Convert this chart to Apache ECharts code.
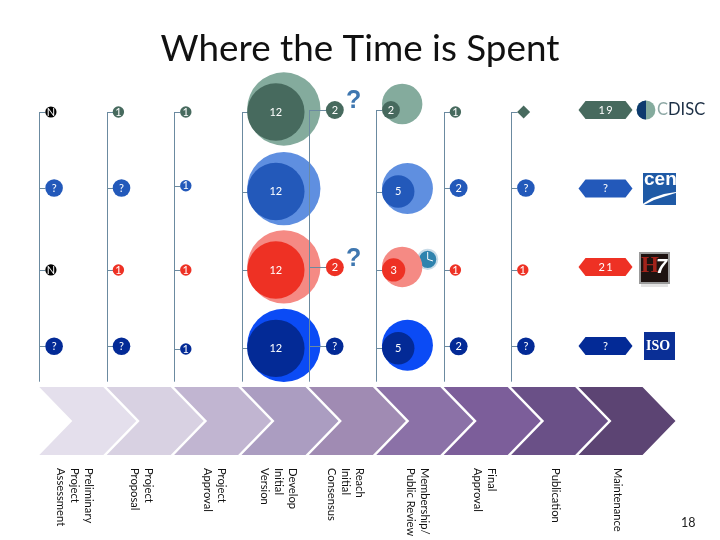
<!DOCTYPE html>
<html>
<head>
<meta charset="utf-8">
<title>Where the Time is Spent</title>
<style>
  html, body { margin: 0; padding: 0; background: #fff; }
  #chart { width: 720px; height: 540px; }
</style>
<script src="https://cdn.jsdelivr.net/npm/echarts@6/dist/echarts.min.js"></script>
</head>
<body>
<div id="chart"></div>
<script>
  const stages = [
    'Preliminary\nProject\nAssessment', 'Project\nProposal', 'Project\nApproval',
    'Develop\nInitial\nVersion', 'Reach\nInitial\nConsensus', 'Membership/\nPublic Review',
    'Final\nApproval', 'Publication', 'Maintenance'
  ]
  const orgs = ['CDISC', 'CEN', 'HL7', 'ISO']

  // months per stage ('M' = milestone diamond, null = nothing drawn)
  const cdiscTime = ['N', 1, 1, 12, 2, 2, 1, 'M', 19]
  const cenTime = ['?', '?', 1, 12, null, 5, 2, '?', '?']
  const hl7Time = ['N', 1, 1, 12, 2, 3, 1, 1, 21]
  const isoTime = ['?', '?', 1, 12, '?', 5, 2, '?', '?']

  // the pale circles behind stages 4 and 6 (estimated from their size)
  const cdiscSpan = [null, null, null, 17.5, null, 7, null, null, null]
  const cenSpan = [null, null, null, 17.5, null, 10, null, null, null]
  const hl7Span = [null, null, null, 17.5, null, 7, null, null, null]
  const isoSpan = [null, null, null, 17.5, null, 10, null, null, null]

  const darkColors = ['#476A5E', '#2359BA', '#EE3124', '#032A96']
  const paleColors = ['#84AB9D', '#5F8FE0', '#F58A84', '#0B4BF5']
  const chevronColors = ['#E4DFEC', '#D8D1E2', '#C1B5D1', '#AB9DC1', '#A08BB3', '#8B71A7', '#7C5E9A', '#6A5087', '#5C4473']
  const lineColor = '#6B8AA0'
  const fontName = 'Lato, "Noto Sans", sans-serif'

  // hand tweaks, the original slide was not laid out on a strict grid
  const rowNudge = [
    [0, 0, 0, 0, -2, -2, 0, 0, -2],
    [-2.3, -2.3, -4.6, 1.2, 0, 1.2, -2.3, -2.3, -1.8],
    [1.3, 1.3, 1.3, 1.3, -1.4, 1.3, 1.3, 1.3, -1.7],
    [-0.7, -0.7, 2, 1.3, -0.7, 1.3, -0.7, -0.7, -1]
  ]
  const colGap = [6, 6, 6, 5.7, 17, 5.7, 6, 6, 0]
  const labelNudge = [2, 1, 7, 3, 3, 8, 7, 11, 5]

  const timeByRow = [cdiscTime, cenTime, hl7Time, isoTime]
  const spanByRow = [cdiscSpan, cenSpan, hl7Span, isoSpan]
  const halfBand = 33.7

  function radius(v) {
    if (v === 'N') return 5.6
    if (v === '?') return 8.8
    return 5.7 * Math.pow(v, 0.65)
  }

  function cellsOf(list, row) {
    const out = []
    list.forEach((v, col) => {
      if (v !== null) out.push([col, row, v])
    })
    return out
  }

  function markSymbol(val) {
    if (val[2] === 'M') return 'diamond'
    if (val[0] === 8) return 'path://M0 9 L7 0 L47 0 L54 9 L47 18 L7 18 Z'
    return 'circle'
  }

  function markSize(val) {
    if (val[2] === 'M') return 13
    if (val[0] === 8) return [54, 18]
    return radius(val[2]) * 2
  }

  function markOffset(val) {
    const dy = rowNudge[val[1]][val[0]]
    if (val[0] === 8) return [-6.7, dy]
    if (val[2] === 'M') return [colGap[val[0]] + 6.5 - halfBand, dy]
    return [colGap[val[0]] + radius(val[2]) - halfBand, dy]
  }

  function spanOffset(val) {
    const lift = val[0] === 5 && val[1] === 0 ? -6 : -3
    return [5.7 + radius(val[2]) - halfBand, rowNudge[val[1]][val[0]] + lift]
  }

  const paleSeries = spanByRow.map((list, row) => ({
    type: 'scatter',
    data: cellsOf(list, row),
    symbolSize: val => radius(val[2]) * 2,
    symbolOffset: spanOffset,
    itemStyle: { color: paleColors[row], opacity: 1 },
    silent: true,
    z: 2
  }))

  const darkSeries = timeByRow.map((list, row) => ({
    type: 'scatter',
    data: cellsOf(list, row),
    symbol: markSymbol,
    symbolSize: markSize,
    symbolOffset: markOffset,
    itemStyle: {
      color: params => (params.value[2] === 'N' ? '#000' : darkColors[row]),
      opacity: 1
    },
    label: {
      show: true,
      position: 'inside',
      color: '#fff',
      fontFamily: fontName,
      fontSize: 11,
      formatter: params => {
        const v = params.value[2]
        if (v === 'M') return ''
        return String(v).split('').join(params.value[0] === 8 ? '\u2009' : '')
      }
    },
    z: 4
  }))

  // stems of each stage and the short branches out to every mark
  const stemSeries = {
    type: 'custom',
    coordinateSystem: 'cartesian2d',
    data: stages.slice(0, 8).map((s, i) => [i]),
    encode: { x: 0 },
    silent: true,
    z: 3,
    renderItem(params, api) {
      const col = api.value(0)
      const band = api.size([1, 0])[0]
      const x = Math.round(api.coord([col, 0])[0] - band / 2) + 0.5
      const top = api.coord([col, 0])[1] + rowNudge[0][col]
      const bottom = api.coord([col, 3])[1] + 34.7
      const children = [{
        type: 'line',
        shape: { x1: x, y1: top, x2: x, y2: bottom },
        style: { stroke: lineColor, lineWidth: 1 }
      }]
      timeByRow.forEach((list, row) => {
        if (list[col] === null) return
        const y = Math.round(api.coord([col, row])[1] + rowNudge[row][col]) + 0.5
        children.push({
          type: 'line',
          shape: { x1: x, y1: y, x2: x + colGap[col], y2: y },
          style: { stroke: lineColor, lineWidth: 1 }
        })
      })
      return { type: 'group', children }
    }
  }

  const chevronSeries = {
    type: 'custom',
    xAxisIndex: 1,
    yAxisIndex: 1,
    data: stages.map((s, i) => [i]),
    encode: { x: 0 },
    silent: true,
    z: 1,
    renderItem(params, api) {
      const i = api.value(0)
      const band = api.size([1, 0])[0]
      const x0 = api.coord([i, 0])[0] - band / 2
      const bottom = api.coord([i, 0])[1]
      const top = api.coord([i, 1])[1]
      const mid = (top + bottom) / 2
      return {
        type: 'polygon',
        shape: {
          points: [[x0, top], [x0 + 64, top], [x0 + 97, mid], [x0 + 64, bottom], [x0, bottom], [x0 + 33, mid]]
        },
        style: { fill: chevronColors[i] }
      }
    }
  }

  const stageLabelSeries = {
    type: 'custom',
    xAxisIndex: 1,
    yAxisIndex: 1,
    data: stages.map((s, i) => [i]),
    encode: { x: 0 },
    silent: true,
    z: 1,
    renderItem(params, api) {
      const i = api.value(0)
      const pos = api.coord([i, 0])
      return {
        type: 'text',
        x: pos[0] + labelNudge[i],
        y: pos[1] + 13,
        rotation: -Math.PI / 2,
        style: {
          text: stages[i],
          fill: '#111',
          font: '11.2px ' + fontName,
          lineHeight: 14,
          align: 'left',
          verticalAlign: 'middle'
        }
      }
    }
  }

  // logos are pictures in the original, rough stand-ins drawn here
  function questionMark(x, y) {
    return {
      type: 'text', x: x, y: y, z: 6,
      style: { text: '?', fill: '#3F77B0', font: 'bold 25px "Liberation Sans", sans-serif' }
    }
  }

  const logos = [
    questionMark(346, 89),
    questionMark(346, 247),
    // cdisc
    { type: 'circle', shape: { cx: 646, cy: 110, r: 9.4 }, style: { fill: '#84AB9D' } },
    { type: 'sector', shape: { cx: 646, cy: 110, r: 9.4, startAngle: Math.PI / 2, endAngle: Math.PI * 1.5 }, style: { fill: '#0D3A6E' } },
    {
      type: 'text', x: 657, y: 101,
      style: {
        rich: { a: { fill: '#8FA9A6', font: '16.5px ' + fontName }, b: { fill: '#1C2F45', font: '16.5px ' + fontName } },
        text: '{a|C}{b|DISC}'
      }
    },
    // cen
    { type: 'rect', shape: { x: 643, y: 173, width: 33, height: 32 }, style: { fill: '#1F5AA6' } },
    {
      type: 'text', x: 644, y: 170,
      style: { text: 'cen', fill: '#fff', font: 'bold 19px "Liberation Sans", sans-serif' }
    },
    {
      type: 'polygon',
      shape: { points: [[641, 205], [652, 198], [664, 194], [682, 191], [666, 196], [654, 200], [644, 205]] },
      style: { fill: '#fff' }
    },
    // hl7
    { type: 'rect', shape: { x: 640, y: 253, width: 29, height: 30 }, style: { fill: '#1E1311', stroke: '#9A9A9A', lineWidth: 2 } },
    {
      type: 'text', x: 641, y: 255,
      style: { text: 'H', fill: '#A3231B', font: 'bold 23px "Liberation Serif", serif' }
    },
    {
      type: 'text', x: 656, y: 257,
      style: { text: '7', fill: '#fff', font: 'bold italic 20px "Liberation Sans", sans-serif' }
    },
    { type: 'rect', shape: { x: 641, y: 284, width: 27, height: 3 }, style: { fill: '#E3E3E3' } },
    // iso
    { type: 'rect', shape: { x: 644, y: 332, width: 31, height: 28 }, style: { fill: '#0A2F96' } },
    {
      type: 'text', x: 646, y: 339,
      style: { text: 'ISO', fill: '#fff', font: 'bold 14px "Liberation Serif", serif' }
    },
    // clock
    { type: 'circle', shape: { cx: 427.7, cy: 259.3, r: 9.6 }, style: { fill: '#2F83AE', stroke: '#C9DCE8', lineWidth: 2 } },
    { type: 'line', shape: { x1: 427.7, y1: 259.3, x2: 427.7, y2: 252 }, style: { stroke: '#fff', lineWidth: 1 } },
    { type: 'line', shape: { x1: 427.7, y1: 259.3, x2: 433, y2: 261 }, style: { stroke: '#fff', lineWidth: 1 } },
    // page number
    {
      type: 'text', x: 681, y: 516,
      style: { text: '18', fill: '#222', font: '12.5px ' + fontName }
    }
  ]

  const myChart = echarts.init(document.getElementById('chart'))
  myChart.setOption({
    animation: false,
    backgroundColor: '#fff',
    title: {
      text: 'Where the Time is Spent',
      left: 'center',
      top: 26,
      textStyle: { color: '#111', fontFamily: fontName, fontWeight: 'normal', fontSize: 36.8 }
    },
    grid: [
      { left: 39.3, width: 606.6, top: 72.83, height: 313.34 },
      { left: 39.3, width: 606.6, top: 387, height: 68 }
    ],
    xAxis: [
      { type: 'category', gridIndex: 0, data: stages, show: false },
      { type: 'category', gridIndex: 1, data: stages, show: false }
    ],
    yAxis: [
      { type: 'category', gridIndex: 0, data: orgs, inverse: true, show: false },
      { type: 'value', gridIndex: 1, min: 0, max: 1, show: false }
    ],
    graphic: logos,
    series: [chevronSeries, stageLabelSeries, ...paleSeries, stemSeries, ...darkSeries]
  })
</script>
</body>
</html>
